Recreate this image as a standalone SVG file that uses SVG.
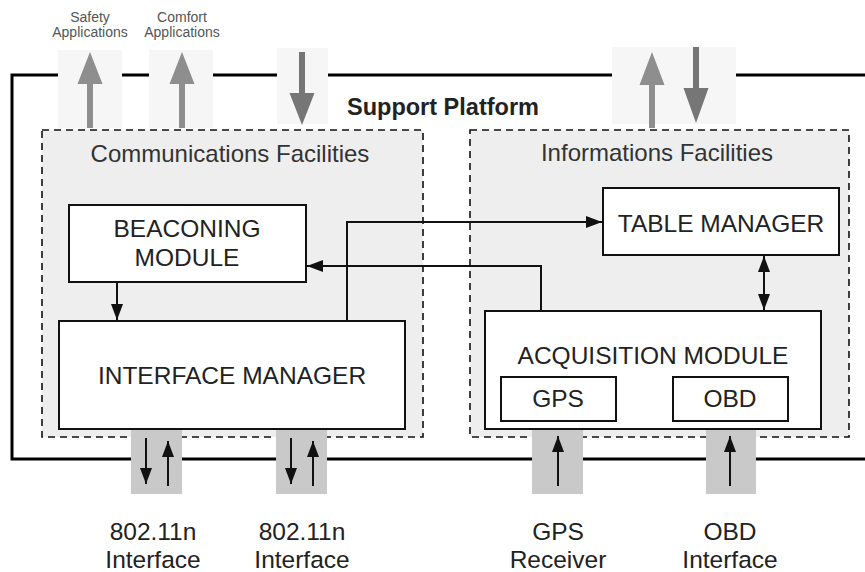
<svg xmlns="http://www.w3.org/2000/svg" width="865" height="572" viewBox="0 0 865 572">
<defs>
<style>
text{font-family:"Liberation Sans",Arial,sans-serif;fill:#222;text-anchor:middle}
.lbl{font-size:24.5px}
.fac{font-size:24px;fill:#333}
.io{font-size:24.5px}
.app{font-size:14px;fill:#555}
.box{fill:#fff;stroke:#111;stroke-width:2}
.fac-box{fill:#eeeeee;stroke:#111;stroke-width:1.6;stroke-dasharray:7 5}
.port-top{fill:#f6f6f6}
.port-bot{fill:#c9c9c9}
.up{fill:#8e8e8e}
.down{fill:#767676}
.con{fill:none;stroke:#111;stroke-width:2}
</style>
<marker id="ah" viewBox="0 0 16 12" refX="16" refY="6" markerWidth="16" markerHeight="12" markerUnits="userSpaceOnUse" orient="auto-start-reverse">
<path d="M0,0 L16,6 L0,12 z" fill="#111"/>
</marker>
</defs>

<g id="support-platform">
<path d="M865,75 H12 V459 H865" fill="none" stroke="#000" stroke-width="3"/>
<text x="443" y="115" style="font-size:23.5px;font-weight:bold" fill="#222">Support Platform</text>
</g>

<g id="communications-facilities">
<rect class="fac-box" x="42" y="130" width="381" height="307"/>
<text class="fac" x="230" y="162">Communications Facilities</text>
</g>

<g id="informations-facilities">
<rect class="fac-box" x="470" y="130" width="379" height="307"/>
<text class="fac" x="657" y="161">Informations Facilities</text>
</g>

<g id="beaconing-module">
<rect class="box" x="69" y="205" width="237" height="77"/>
<text class="lbl" x="187" y="237">BEACONING</text>
<text class="lbl" x="187" y="266">MODULE</text>
</g>

<g id="interface-manager">
<rect class="box" x="59" y="321" width="346" height="108"/>
<text class="lbl" x="232" y="384">INTERFACE MANAGER</text>
</g>

<g id="table-manager">
<rect class="box" x="603" y="188" width="236" height="67"/>
<text class="lbl" x="721" y="232">TABLE MANAGER</text>
</g>

<g id="acquisition-module">
<rect class="box" x="485" y="311" width="336" height="118"/>
<text class="lbl" x="653" y="364">ACQUISITION MODULE</text>
</g>

<g id="gps">
<rect class="box" x="501" y="377" width="115" height="44"/>
<text class="lbl" x="558" y="407">GPS</text>
</g>

<g id="obd">
<rect class="box" x="673" y="377" width="115" height="44"/>
<text class="lbl" x="730" y="407">OBD</text>
</g>

<g id="safety-applications">
<rect class="port-top" x="58" y="50" width="64" height="78"/>
<path class="up" d="M87,128 V84 H77.5 L90,52 L102.5,84 H93 V128 Z"/>
<text class="app" x="90" y="22">Safety</text>
<text class="app" x="90" y="37">Applications</text>
</g>

<g id="comfort-applications">
<rect class="port-top" x="149" y="50" width="64" height="78"/>
<path class="up" d="M179,128 V84 H169.5 L182,52 L194.5,84 H185 V128 Z"/>
<text class="app" x="182" y="22">Comfort</text>
<text class="app" x="182" y="37">Applications</text>
</g>

<g id="input-port">
<rect class="port-top" x="277" y="48" width="51" height="76"/>
<path class="down" d="M299,52 V93 H289.5 L302,125 L314.5,93 H305 V52 Z"/>
</g>

<g id="info-port">
<rect class="port-top" x="612" y="47" width="124" height="77"/>
<path class="up" d="M649,128 V85 H639.5 L652,52 L664.5,85 H655 V128 Z"/>
<path class="down" d="M693,47 V88 H683.5 L696,123 L708.5,88 H699 V47 Z"/>
</g>

<g id="wifi-interface-1">
<rect class="port-bot" x="131" y="430" width="51" height="64"/>
<text class="io" x="153" y="540">802.11n</text>
<text class="io" x="153" y="568">Interface</text>
</g>

<g id="wifi-interface-2">
<rect class="port-bot" x="276" y="430" width="51" height="64"/>
<text class="io" x="302" y="540">802.11n</text>
<text class="io" x="302" y="568">Interface</text>
</g>

<g id="gps-receiver">
<rect class="port-bot" x="532" y="430" width="51" height="64"/>
<text class="io" x="558" y="540">GPS</text>
<text class="io" x="558" y="568">Receiver</text>
</g>

<g id="obd-interface">
<rect class="port-bot" x="706" y="430" width="50" height="64"/>
<text class="io" x="730" y="540">OBD</text>
<text class="io" x="730" y="568">Interface</text>
</g>

<g id="connectors">
<path class="con" d="M117,282 V320" marker-end="url(#ah)"/>
<path class="con" d="M347,321 V222 H602" marker-end="url(#ah)"/>
<path class="con" d="M541,311 V266 H307" marker-end="url(#ah)"/>
<path class="con" d="M764,256 V310" marker-start="url(#ah)" marker-end="url(#ah)"/>
<path class="con" d="M146,438 V484" marker-end="url(#ah)"/>
<path class="con" d="M168,486 V441" marker-end="url(#ah)"/>
<path class="con" d="M291,438 V484" marker-end="url(#ah)"/>
<path class="con" d="M313,486 V441" marker-end="url(#ah)"/>
<path class="con" d="M558,486 V436" marker-end="url(#ah)"/>
<path class="con" d="M730,486 V436" marker-end="url(#ah)"/>
</g>
</svg>
